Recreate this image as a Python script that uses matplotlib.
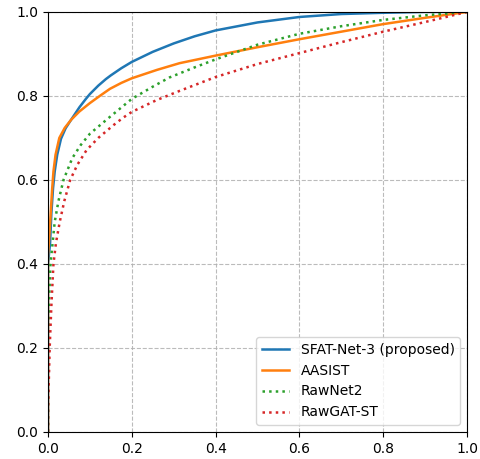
import numpy as np
import matplotlib
matplotlib.use("Agg")
from matplotlib import pyplot as plt

# ROC points (false positive rate, true positive rate) per system
sfat_fpr = [0, 0, 0.005, 0.008, 0.012, 0.016, 0.022, 0.031, 0.042, 0.055, 0.075,
            0.09, 0.1, 0.12, 0.138, 0.15, 0.175, 0.2, 0.25, 0.3, 0.35, 0.4,
            0.5, 0.6, 0.7, 0.8, 0.9, 1.0]
sfat_tpr = [0, 0.4, 0.45, 0.52, 0.58, 0.62, 0.66, 0.698, 0.723, 0.743, 0.773,
            0.7925, 0.8045, 0.8245, 0.84, 0.849, 0.866, 0.881, 0.905, 0.925, 0.942, 0.956,
            0.975, 0.988, 0.995, 0.998, 1.0, 1.0]

aasist_fpr = [0, 0, 0.004, 0.007, 0.01, 0.013, 0.018, 0.027, 0.04, 0.055, 0.075,
              0.09, 0.1, 0.125, 0.148, 0.175, 0.2, 0.26, 0.314, 0.4, 0.5, 0.6,
              0.7, 0.8, 0.9, 1.0]
aasist_tpr = [0, 0.42, 0.48, 0.53, 0.58, 0.62, 0.66, 0.70, 0.724, 0.743, 0.763,
              0.775, 0.783, 0.801, 0.817, 0.831, 0.842, 0.862, 0.878, 0.896, 0.916, 0.935,
              0.953, 0.971, 0.986, 1.0]

rawnet2_fpr = [0, 0, 0.002, 0.006, 0.016, 0.025, 0.037, 0.058, 0.078, 0.1,
               0.144, 0.2, 0.25, 0.29, 0.35, 0.4, 0.5, 0.6, 0.7, 0.8, 0.9, 1.0]
rawnet2_tpr = [0, 0.15, 0.3, 0.4, 0.5, 0.55, 0.6, 0.652, 0.683, 0.71,
               0.747, 0.793, 0.822, 0.844, 0.868, 0.887, 0.922, 0.948, 0.966, 0.981, 0.992, 1.0]

rawgat_fpr = [0, 0, 0.004, 0.008, 0.013, 0.019, 0.028, 0.039, 0.053, 0.07, 0.092,
              0.12, 0.157, 0.179, 0.2, 0.259, 0.314, 0.4, 0.5, 0.6, 0.7, 0.8, 0.9, 1.0]
rawgat_tpr = [0, 0.05, 0.2, 0.3, 0.4, 0.45, 0.5, 0.55, 0.6, 0.636, 0.671,
              0.7, 0.731, 0.748, 0.762, 0.79, 0.812, 0.845, 0.876, 0.902, 0.928, 0.953, 0.976, 1.0]

labels = ["SFAT-Net-3 (proposed)", "AASIST", "RawNet2", "RawGAT-ST"]

fig = plt.figure(figsize=(4.8, 4.59), dpi=100)
ax = fig.add_axes([0.1, 0.059, 0.873, 0.915])

ax.plot(sfat_fpr, sfat_tpr, color="tab:blue", lw=1.8, label=labels[0])
ax.plot(aasist_fpr, aasist_tpr, color="tab:orange", lw=1.8, label=labels[1])
ax.plot(rawnet2_fpr, rawnet2_tpr, color="tab:green", lw=1.8, ls=":", label=labels[2])
ax.plot(rawgat_fpr, rawgat_tpr, color="tab:red", lw=1.8, ls=":", label=labels[3])

ax.set_xlim(0, 1)
ax.set_ylim(0, 1)
ax.set_xticks(np.arange(0, 1.01, 0.2))
ax.set_yticks(np.arange(0, 1.01, 0.2))
ax.grid(True, ls="--", color="#b0b0b0", alpha=0.85)
ax.legend(loc="lower right")

fig.savefig("out.png", dpi=100)
